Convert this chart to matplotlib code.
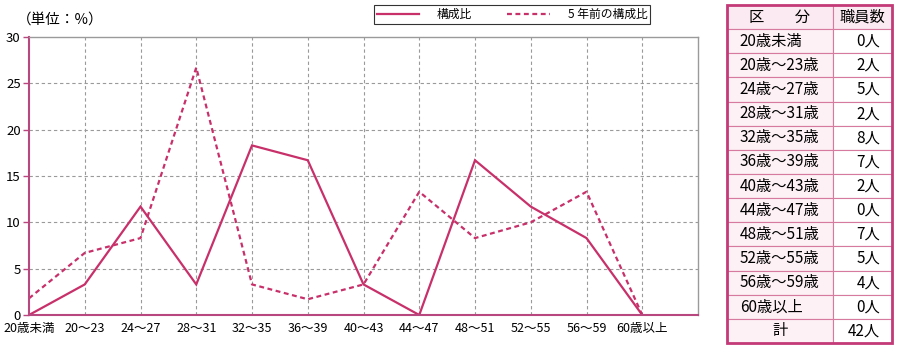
import matplotlib.pyplot as plt
from matplotlib.lines import Line2D

plt.rcParams['font.family'] = ['Noto Sans CJK JP', 'DejaVu Sans']

# data
age_labels = ['20歳未満', '20〜23', '24〜27', '28〜31', '32〜35', '36〜39',
              '40〜43', '44〜47', '48〜51', '52〜55', '56〜59', '60歳以上']
ratio_now = [0, 3.3, 11.7, 3.3, 18.3, 16.7, 3.3, 0, 16.7, 11.7, 8.3, 0]
ratio_5y = [1.8, 6.7, 8.3, 26.7, 3.3, 1.7, 3.3, 13.3, 8.3, 10.0, 13.3, 0]

table_rows = ['20歳未満', '20歳〜23歳', '24歳〜27歳', '28歳〜31歳', '32歳〜35歳',
              '36歳〜39歳', '40歳〜43歳', '44歳〜47歳', '48歳〜51歳', '52歳〜55歳',
              '56歳〜59歳', '60歳以上', '計']
table_counts = ['0人', '2人', '5人', '2人', '8人', '7人', '2人', '0人', '7人',
                '5人', '4人', '0人', '42人']

line_color = '#c8306a'
axis_color = '#b8467f'
grid_color = '#9a9a9a'

W, H = 900, 351
fig = plt.figure(figsize=(9, 3.51), dpi=100)

# main line chart
ax = fig.add_axes([29 / W, 1 - 315 / H, (698 - 29) / W, (315 - 37) / H])
x = list(range(len(age_labels)))
ax.plot(x, ratio_now, color=line_color, lw=1.6, solid_joinstyle='miter')
ax.plot(x, ratio_5y, color=line_color, lw=1.6, ls=(0, (2.2, 1.6)))

ax.set_xlim(0, 12)
ax.set_ylim(0, 30)
ax.set_xticks(x)
ax.set_xticklabels(age_labels, fontsize=9)
ax.set_yticks(range(0, 31, 5))
ax.tick_params(axis='x', length=0, pad=5, colors='black')
ax.tick_params(axis='y', length=4, width=1, color=axis_color, pad=2, labelsize=9.5)

for y in range(5, 30, 5):
    ax.axhline(y, color=grid_color, lw=0.8, ls=(0, (3, 2.5)), zorder=0)
for xi in range(1, 12):
    ax.axvline(xi, color=grid_color, lw=0.8, ls=(0, (3, 2.5)), zorder=0)

ax.spines['left'].set_color(axis_color)
ax.spines['left'].set_linewidth(1.5)
ax.spines['bottom'].set_color(axis_color)
ax.spines['bottom'].set_linewidth(1.5)
ax.spines['top'].set_color(grid_color)
ax.spines['top'].set_linewidth(1)
ax.spines['right'].set_color(grid_color)
ax.spines['right'].set_linewidth(1)

fig.text(17 / W, 1 - 20 / H, '（単位：%）', fontsize=10.5, va='center', ha='left')

# legend
handles = [Line2D([], [], color=line_color, lw=1.6),
           Line2D([], [], color=line_color, lw=1.6, ls=(0, (2.2, 1.6)))]
leg = fig.legend(handles, ['構成比', '5 年前の構成比'], loc='center',
                 bbox_to_anchor=(512 / W, 1 - 14.5 / H), ncol=2, fontsize=8.5,
                 frameon=True, fancybox=False, edgecolor='black',
                 handlelength=3.6, columnspacing=3.0, borderpad=0.25,
                 handletextpad=1.5, borderaxespad=0)
leg.get_frame().set_linewidth(0.8)

# table on the right
tax = fig.add_axes([727 / W, 1 - 343 / H, (892 - 727) / W, (343 - 5) / H])
tax.axis('off')
cells = [['区　　分', '職員数']] + [[r, c] for r, c in zip(table_rows, table_counts)]
tbl = tax.table(cellText=cells, bbox=[0, 0, 1, 1], colWidths=[0.642, 0.358],
                cellLoc='left')
tbl.auto_set_font_size(False)
n_rows = len(cells)
for (r, c), cell in tbl.get_celld().items():
    cell.set_edgecolor('#d77aa0')
    cell.set_linewidth(0.8)
    txt = cell.get_text()
    txt.set_fontsize(11)
    if r == 0 or (r == n_rows - 1 and c == 0):
        loc = 'center'
    elif c == 0:
        loc = 'left'
        cell.PAD = 0.12
    else:
        loc = 'right'
        cell.PAD = 0.2
    cell._loc = loc
    txt.set_horizontalalignment(loc)
    if r == 0:
        cell.set_facecolor('#fbeaf1')
    elif c == 0:
        cell.set_facecolor('#fdf1f5')
    else:
        cell.set_facecolor('white')

# thick outer border
tax.add_patch(plt.Rectangle((0, 0), 1, 1, fill=False, edgecolor='#c43a78',
                            lw=2, transform=tax.transAxes, clip_on=False, zorder=5))

fig.savefig('out.png', dpi=100)
